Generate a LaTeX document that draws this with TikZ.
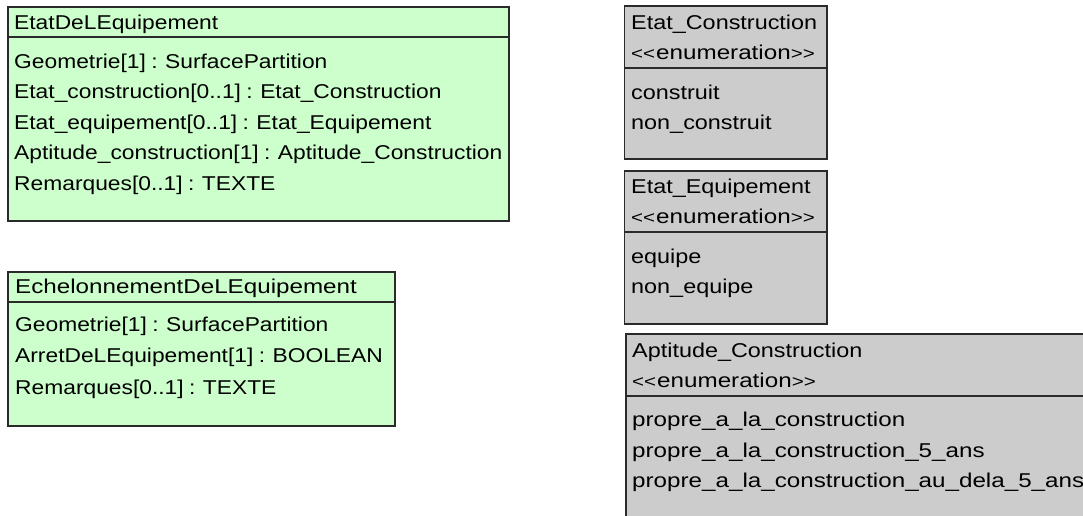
\documentclass[tikz,border=0pt]{standalone}
\usepackage{fontspec}
\newfontfamily\umlfont{Liberation Sans}[FakeStretch=1.14, WordSpace=0.85]
\newfontfamily\umlmid{Liberation Sans}[FakeStretch=1.17, WordSpace=0.85]
\newfontfamily\umlwide{Liberation Sans}[FakeStretch=1.21, WordSpace=0.85]
\newcommand{\chev}[1]{{\fontsize{17pt}{17pt}\selectfont #1}\kern1pt}
\definecolor{umlgreen}{HTML}{CCFFCC}
\definecolor{umlgray}{HTML}{CCCCCC}
\definecolor{umlline}{HTML}{2A2A2A}
\tikzset{
  clsbox/.style={draw=umlline, line width=1.8pt, anchor=north west, inner sep=0pt},
  greenbox/.style={clsbox, fill=umlgreen},
  graybox/.style={clsbox, fill=umlgray},
  divline/.style={draw=umlline, line width=1.8pt},
  txt/.style={anchor=west, inner sep=0pt, text height=14.3pt, text depth=0pt,
    font={\umlfont\fontsize{20pt}{24pt}\selectfont}, text=black},
  txtmid/.style={txt, font={\umlmid\fontsize{20pt}{24pt}\selectfont}},
  txtwide/.style={txt, font={\umlwide\fontsize{20pt}{24pt}\selectfont}}
}
\begin{document}
\begin{tikzpicture}[x=1pt,y=-1pt]
\useasboundingbox (0,0) rectangle (1083,515);
\clip (0,0) rectangle (1083,515);
\fill[white] (0,0) rectangle (1083,515);

% EtatDeLEquipement
\node[greenbox, minimum width=501pt, minimum height=214pt] (b1) at (7,6) {};
\draw[divline] ([yshift=-31.3pt]b1.north west) -- ([yshift=-31.3pt]b1.north east);
\node[txt] (b1h) at (14,22.7) {EtatDeLEquipement};
\node[txt] (b1a) at (14,61) {Geometrie[1] : SurfacePartition};
\node[txt] (b1b) at (14,91.5) {Etat\_construction[0..1] : Etat\_Construction};
\node[txt] (b1c) at (14,122) {Etat\_equipement[0..1] : Etat\_Equipement};
\node[txt] (b1d) at (14,152.5) {Aptitude\_construction[1] : Aptitude\_Construction};
\node[txt] (b1e) at (14,183) {Remarques[0..1] : TEXTE};

% EchelonnementDeLEquipement
\node[greenbox, minimum width=387pt, minimum height=154pt] (b2) at (7,271) {};
\draw[divline] ([yshift=-31pt]b2.north west) -- ([yshift=-31pt]b2.north east);
\node[txtwide] (b2h) at (15,286) {EchelonnementDeLEquipement};
\node[txt] (b2a) at (15,324) {Geometrie[1] : SurfacePartition};
\node[txt] (b2b) at (15,355.5) {ArretDeLEquipement[1] : BOOLEAN};
\node[txt] (b2c) at (15,387) {Remarques[0..1] : TEXTE};

% Etat_Construction
\node[graybox, minimum width=202.5pt, minimum height=153.3pt] (b3) at (623.5,5) {};
\draw[divline] ([yshift=-63.3pt]b3.north west) -- ([yshift=-63.3pt]b3.north east);
\node[txtmid] (b3h) at (631,22.2) {Etat\_Construction};
\node[txtwide] (b3s) at (631,52) {\chev{<<}enumeration\chev{>>}};
\node[txtmid] (b3a) at (631,92) {construit};
\node[txtmid] (b3b) at (631,122) {non\_construit};

% Etat_Equipement
\node[graybox, minimum width=202.5pt, minimum height=152.7pt] (b4) at (623.5,170) {};
\draw[divline] ([yshift=-62.3pt]b4.north west) -- ([yshift=-62.3pt]b4.north east);
\node[txtmid] (b4h) at (631,186) {Etat\_Equipement};
\node[txtwide] (b4s) at (631,216) {\chev{<<}enumeration\chev{>>}};
\node[txtmid] (b4a) at (631,256) {equipe};
\node[txtmid] (b4b) at (631,286) {non\_equipe};

% Aptitude_Construction
\node[graybox, minimum width=480pt, minimum height=200pt] (b5) at (625,333.3) {};
\draw[divline] ([yshift=-62.4pt]b5.north west) -- ([yshift=-62.4pt]b5.north east);
\node[txtmid] (b5h) at (632,350) {Aptitude\_Construction};
\node[txtwide] (b5s) at (632,380) {\chev{<<}enumeration\chev{>>}};
\node[txtwide] (b5a) at (632,419) {propre\_a\_la\_construction};
\node[txtwide] (b5b) at (632,450) {propre\_a\_la\_construction\_5\_ans};
\node[txtwide] (b5c) at (632,480) {propre\_a\_la\_construction\_au\_dela\_5\_ans};
\end{tikzpicture}
\end{document}
